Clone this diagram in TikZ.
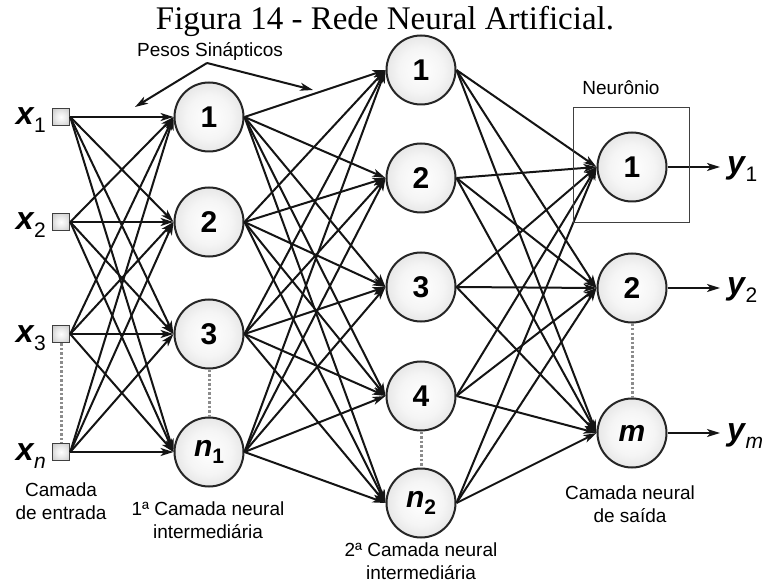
\documentclass[tikz,border=0pt]{standalone}
\usepackage{fontspec}
\setmainfont{Liberation Sans}
\newfontfamily\titlefont{Liberation Serif}
\usetikzlibrary{arrows.meta}

% shading of the neurons and of the input terminals
\pgfdeclareradialshading{ballshade}{\pgfpoint{0bp}{0bp}}{%
  color(0bp)=(white); color(16bp)=(white!96!black);
  color(38bp)=(white!83!black); color(50bp)=(white!70!black)}
\pgfdeclareradialshading{boxshade}{\pgfpoint{0bp}{0bp}}{%
  color(0bp)=(white); color(15bp)=(white!92!black);
  color(40bp)=(white!75!black); color(50bp)=(white!62!black)}

% bold italic variable with an upright subscript
\newcommand\varsub[2]{{\fontsize{32}{32}\selectfont\bfseries\itshape #1}%
  \kern0.5pt\raisebox{-8pt}{\fontsize{21}{21}\selectfont #2}}
\newcommand\nsub[2]{{\bfseries\itshape #1}\raisebox{-7pt}{\fontsize{21}{21}\selectfont\bfseries #2}}

\begin{document}
\begin{tikzpicture}[x=1pt,y=-1pt,
  neuron/.style={circle, draw=black!85, line width=2pt, shading=ballshade,
    minimum size=69pt, inner sep=0pt,
    font=\fontsize{30}{30}\selectfont\bfseries},
  inputbox/.style={rectangle, draw=black!75, line width=1.5pt, shading=boxshade,
    minimum size=17pt, inner sep=0pt},
  link/.style={line width=2pt, draw=black!92,
    -{Stealth[length=13pt,width=8pt,inset=3.5pt]}},
  elided/.style={draw=black!45, line width=3pt, dash pattern=on 2.5pt off 2pt},
  lbl/.style={font=\fontsize{19}{23}\selectfont, align=center, inner sep=0pt},
  varlbl/.style={inner sep=0pt}]

\fill[white] (0,0) rectangle (763,585);
\useasboundingbox (0,0) rectangle (763,585);

% title
\node[anchor=base, inner sep=0pt, font=\titlefont\fontsize{33}{33}\selectfont]
  (title) at (385,30) {Figura 14 - Rede Neural Artificial.};

% input layer
\node[inputbox] (in1) at (61,117) {};
\node[inputbox] (in2) at (61,222) {};
\node[inputbox] (in3) at (61,334) {};
\node[inputbox] (in4) at (61,452) {};

% first hidden layer
\node[neuron] (h1) at (209,117) {1};
\node[neuron] (h2) at (209,222) {2};
\node[neuron] (h3) at (209,334) {3};
\node[neuron] (h4) at (209,452) {\nsub{n}{1}};

% second hidden layer
\node[neuron] (m1) at (421,70) {1};
\node[neuron] (m2) at (421,178) {2};
\node[neuron] (m3) at (421,287) {3};
\node[neuron] (m4) at (421,396) {4};
\node[neuron] (m5) at (421,503) {\nsub{n}{2}};

% output layer
\node[neuron] (o1) at (632,167) {1};
\node[neuron] (o2) at (632,288) {2};
\node[neuron] (o3) at (632,433) {\bfseries\itshape m};

% weighted connections
\foreach \i in {1,...,4}
  \foreach \j in {1,...,4}
    \draw[link] (in\i.east) -- (h\j.west);
\foreach \i in {1,...,4}
  \foreach \j in {1,...,5}
    \draw[link] (h\i.east) -- (m\j.west);
\foreach \i in {1,...,5}
  \foreach \j in {1,...,3}
    \draw[link] (m\i.east) -- (o\j.west);

% elided units
\draw[elided] (in3.south) -- (in4.north);
\draw[elided] (h3.south) -- (h4.north);
\draw[elided] (m4.south) -- (m5.north);
\draw[elided] (o2.south) -- (o3.north);

% input labels
\node[varlbl, anchor=base east] (lx1) at (46,125) {\varsub{x}{1}};
\node[varlbl, anchor=base east] (lx2) at (46,230) {\varsub{x}{2}};
\node[varlbl, anchor=base east] (lx3) at (46,342) {\varsub{x}{3}};
\node[varlbl, anchor=base east] (lx4) at (46,460) {\varsub{x}{\itshape n}};

% outputs
\coordinate (e1) at (720,167);
\coordinate (e2) at (720,288);
\coordinate (e3) at (720,433);
\draw[link] (o1.east) -- (e1);
\draw[link] (o2.east) -- (e2);
\draw[link] (o3.east) -- (e3);
\node[varlbl, anchor=base west] (ly1) at (727,174) {\varsub{y}{1}};
\node[varlbl, anchor=base west] (ly2) at (727,295) {\varsub{y}{2}};
\node[varlbl, anchor=base west] (ly3) at (727,440) {\varsub{y}{\itshape m}};

% single neuron highlight
\node[draw=black!75, line width=1.5pt, minimum width=116pt, minimum height=115pt,
  inner sep=0pt] (nbox) at (631.5,165) {};
\node[lbl, anchor=base] (neur) at (621,95) {Neurônio};

% synaptic weights
\node[lbl, anchor=base] (pesos) at (210,57) {Pesos Sinápticos};
\coordinate (apex) at (207,63);
\coordinate (wl) at (135,107);
\coordinate (wr) at (313,90);
\draw[link] (apex) -- (wl);
\draw[link] (apex) -- (wr);

% layer captions
\node[lbl, anchor=north] (cin) at (61,483) {Camada\\de entrada};
\node[lbl, anchor=north] (ch1) at (208,502) {1ª Camada neural\\intermediária};
\node[lbl, anchor=north] (ch2) at (421,543) {2ª Camada neural\\intermediária};
\node[lbl, anchor=north] (cout) at (630,486) {Camada neural\\de saída};
\end{tikzpicture}
\end{document}
